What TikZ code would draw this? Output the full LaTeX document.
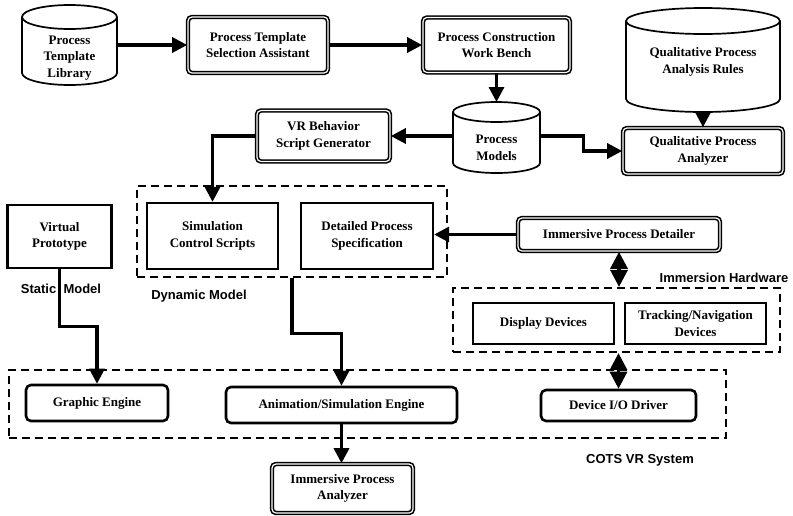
\documentclass[tikz,border=0pt]{standalone}
\usepackage{fontspec}
\setmainfont{Liberation Serif}
\setsansfont{Liberation Sans}
\usetikzlibrary{arrows.meta, positioning}

\begin{document}
\begin{tikzpicture}[x=1pt, y=-1pt,
		font=\fontsize{13}{16.5}\selectfont\bfseries,
		arr/.style={line width=3.2pt, -{Triangle[length=15pt,width=15pt]}},
		twoway/.style={line width=3.2pt, {Triangle[length=17pt,width=17pt]}-{Triangle[length=17pt,width=17pt]}},
		heavybox/.style={draw, double, line width=1.6pt, double distance=1.2pt, rounded corners=4pt, align=center, inner sep=0pt},
		enginebox/.style={draw, line width=2.6pt, rounded corners=5pt, align=center, inner sep=0pt},
		plainbox/.style={draw, line width=2.3pt, align=center, inner sep=0pt},
		dashbox/.style={draw, line width=2.2pt, dash pattern=on 8pt off 5pt, inner sep=0pt},
		cyl/.style={line width=1.7pt},
		cyltext/.style={align=center, inner sep=0pt},
		tag/.style={font=\fontsize{13}{16}\selectfont\sffamily\bfseries}]
			\useasboundingbox (0,0) rectangle (793,515);

			\draw[cyl] (22,17) -- (22,73) arc[start angle=180, end angle=360, x radius=47.5pt, y radius=12pt] -- (117,17);
			\draw[cyl] (69.5,17) ellipse[x radius=47.5pt, y radius=12pt];
			\node[cyltext, minimum width=95pt] (ptl) at (69.5,58) {Process\\Template\\Library};

			\draw[cyl] (453,112) -- (453,163) arc[start angle=180, end angle=360, x radius=43.5pt, y radius=10pt] -- (540,112);
			\draw[cyl] (496.5,112) ellipse[x radius=43.5pt, y radius=10pt];
			\node[cyltext, minimum width=87pt] (pm) at (496.5,148) {Process\\Models};
			\coordinate (pmtop) at (496.5,102);

			\draw[cyl] (626,21) -- (626,99) arc[start angle=180, end angle=360, x radius=77pt, y radius=13pt] -- (780,21);
			\draw[cyl] (703,21) ellipse[x radius=77pt, y radius=13pt];
			\node[cyltext] (qpar) at (703,62) {Qualitative Process\\Analysis Rules};
			\coordinate (qparbot) at (703,112);

			\node[heavybox, minimum width=140pt, minimum height=56pt] (ptsa) at (258,45) {Process Template\\Selection Assistant};
			\node[heavybox, minimum width=147pt, minimum height=55pt] (pcwb) at (496.5,45) {Process Construction\\Work Bench};
			\node[heavybox, minimum width=133pt, minimum height=51pt] (vrbsg) at (323.5,136) {VR Behavior\\Script Generator};
			\node[heavybox, minimum width=160pt, minimum height=46pt] (qpa) at (703,151) {Qualitative Process\\Analyzer};
			\node[heavybox, minimum width=202pt, minimum height=33pt] (ipd) at (619,234.5) {Immersive Process Detailer};
			\node[heavybox, minimum width=141pt, minimum height=49pt] (ipa) at (342.5,488.5) {Immersive Process\\Analyzer};

			\node[dashbox, minimum width=310pt, minimum height=91pt] (dm) at (292,231.5) {};
			\node[dashbox, minimum width=327pt, minimum height=64pt] (ih) at (616.5,320) {};
			\node[dashbox, minimum width=717pt, minimum height=68pt] (cots) at (367.5,404) {};

			\node[plainbox, minimum width=104pt, minimum height=63pt] (vp) at (59.5,236.5) {Virtual\\Prototype};
			\node[plainbox, minimum width=131pt, minimum height=66pt] (scs) at (212.5,236) {Simulation\\Control Scripts};
			\node[plainbox, minimum width=132pt, minimum height=66pt] (dps) at (367,236) {Detailed Process\\Specification};
			\node[plainbox, minimum width=141pt, minimum height=41pt] (dd) at (543.5,323.5) {Display Devices};
			\node[plainbox, minimum width=141pt, minimum height=41pt] (tnd) at (695.5,323.5) {Tracking/Navigation\\Devices};

			\node[enginebox, minimum width=142pt, minimum height=36pt] (ge) at (97,403) {Graphic Engine};
			\node[enginebox, minimum width=231pt, minimum height=36pt] (ase) at (341.5,405) {Animation/Simulation Engine};
			\node[enginebox, minimum width=155pt, minimum height=31pt] (dio) at (618.5,405.5) {Device I/O Driver};

			\node[tag] (static) at (61,289) {Static\ \ Model};
			\node[tag] (dynamic) at (199,296) {Dynamic Model};
			\node[tag] (hardware) at (724,278) {Immersion Hardware};
			\node[tag] (cotsname) at (640,460) {COTS VR System};

			\draw[arr] (ptsa.west -| ptl.east) -- (ptsa.west);
			\draw[arr] (ptsa.east) -- (pcwb.west);
			\draw[arr] (pcwb.south) -- (pmtop);
			\draw[arr] (qparbot) -- (qpa.north);
			\draw[arr] (vrbsg.east -| pm.west) -- (vrbsg.east);
			\draw[arr] (vrbsg.east -| pm.east) -- ++(43,0) |- (qpa.west);
			\draw[arr] (vrbsg.west) -| (scs.north);
			\draw[arr] (ipd.west) -- (ipd.west -| dps.east);
			\draw[twoway] (ipd.south) -- (ipd.south |- ih.north);
			\draw[twoway] (dio.north |- ih.south) -- (dio.north);
			\draw[arr] (vp.south) -- ++(0,57) -| (ge.north);
			\draw[arr] (dm.south) -- ++(0,55) -| (ase.north);
			\draw[arr] (ase.south) -- (ase.south |- ipa.north);
\end{tikzpicture}
\end{document}
